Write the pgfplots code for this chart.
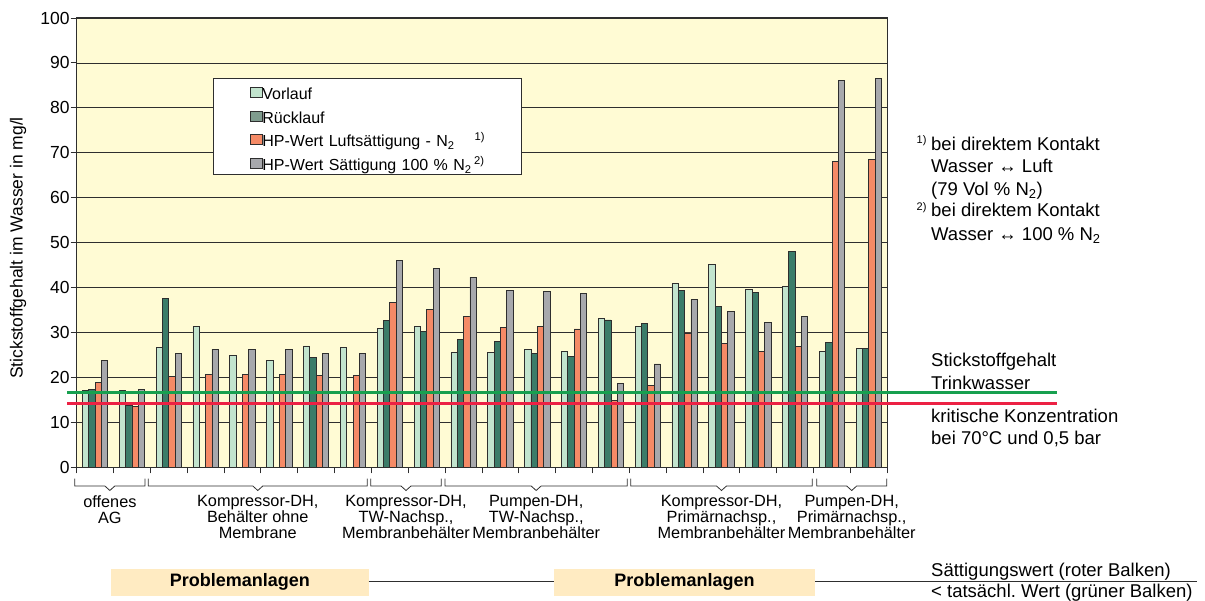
\documentclass[border=0pt]{standalone}
\usepackage{fontspec}
\setmainfont{Liberation Sans}
\usepackage{pgfplots}
\usepackage{pgfplotstable}
\pgfplotsset{compat=1.18}
\definecolor{plotbg}{HTML}{FFFBD4}
\definecolor{vl}{HTML}{C2E4CE}
\definecolor{rl}{HTML}{3B7C69}
\definecolor{rlleg}{HTML}{7F9C8E}
\definecolor{hpl}{HTML}{F58A66}
\definecolor{hps}{HTML}{A7A8AC}
\definecolor{gline}{HTML}{17A04F}
\definecolor{rline}{HTML}{EC2144}
\definecolor{pbox}{HTML}{FFEBC2}
\definecolor{edge}{HTML}{2E2E2E}
\newcommand{\fs}[2]{\fontsize{#1bp}{#2bp}\selectfont}
\frenchspacing

% group centre, Vorlauf, Ruecklauf, HP Luft, HP 100%
\pgfplotstableread{
x    vl    rl    hpl   hps
0.5  17.1  17.3  18.8  23.8
1.5  17.1  13.8  13.6  17.3
2.5  26.7  37.6  20.3  25.4
3.5  31.3  nan   20.6  26.3
4.5  24.8  nan   20.6  26.3
5.5  23.8  nan   20.6  26.3
6.5  27.0  24.5  20.4  25.4
7.5  26.7  nan   20.4  25.4
8.5  30.9  32.6  36.6  46.1
9.5  31.4  30.2  35.2  44.3
10.5 25.5  28.4  33.6  42.3
11.5 25.5  28.1  31.2  39.3
12.5 26.2  25.3  31.3  39.2
13.5 25.8  24.6  30.8  38.7
14.5 33.2  32.8  14.9  18.7
15.5 31.3  32.0  18.3  23.0
16.5 40.9  39.4  29.9  37.4
17.5 45.1  35.8  27.6  34.7
18.5 39.5  38.9  25.8  32.2
19.5 40.3  48.1  26.8  33.6
20.5 25.8  27.8  68.1  86.1
21.5 26.4  26.4  68.5  86.5
}\datatab

\newcommand{\brk}[2]{%
  \draw[edge, line width=0.8pt] (#1,601-478.7) -- (#1,601-486) -- ({(#1+#2)/2-5},601-486)
   -- ({(#1+#2)/2},601-490.5) -- ({(#1+#2)/2+5},601-486) -- (#2,601-486) -- (#2,601-478.7);}

\begin{document}
\begin{tikzpicture}[x=1bp,y=1bp]
\path[use as bounding box] (0,0) rectangle (1205,601);
\begin{axis}[
  at={(76.7bp,133.7bp)}, anchor=south west,
  scale only axis, width=810.6bp, height=449.3bp,
  xmin=0, xmax=22, ymin=0, ymax=100,
  clip=false,
  axis background/.style={fill=plotbg},
  axis line style={edge, line width=1pt},
  xtick={0,1,...,22}, xticklabels={},
  ytick={0,10,...,100},
  xtick pos=left, ytick pos=left,
  tick align=outside, major tick length=6bp,
  tick style={edge, line width=0.9pt},
  ymajorgrids, grid style={edge, line width=0.8pt},
  /pgf/number format/assume math mode=true,
  yticklabel style={font=\fs{17.5}{17.5}, inner xsep=1bp},
  bar width=0.172,
  legend cell align=left,
  legend style={at={(0.1685,0.8658)}, anchor=north west, draw=edge, line width=0.8pt,
    fill=white, inner xsep=36bp, inner ysep=2.3bp, row sep=3.3bp,
    /tikz/every even column/.style={column sep=2.6bp},
    nodes={font=\fs{16}{16}, inner xsep=0bp, inner ysep=1bp, text height=17.4bp,
      text depth=1bp, text width=223bp, align=left}},
  legend image code/.code={\draw[#1, draw=edge, line width=0.7pt] (0bp,-6bp) rectangle (12bp,4bp);},
]
\addplot[ybar, bar shift=-0.258, fill=vl, draw=edge, line width=0.8pt, forget plot] table[x=x, y=vl] {\datatab};
\addplot[ybar, bar shift=-0.086, fill=rl, draw=edge, line width=0.8pt, forget plot] table[x=x, y=rl] {\datatab};
\addplot[ybar, bar shift=0.086, fill=hpl, draw=edge, line width=0.8pt, forget plot] table[x=x, y=hpl] {\datatab};
\addplot[ybar, bar shift=0.258, fill=hps, draw=edge, line width=0.8pt, forget plot] table[x=x, y=hps] {\datatab};
% reference levels
\addplot[gline, line width=2.6pt, forget plot] coordinates {(-0.263,16.6) (26.61,16.6)};
\addplot[rline, line width=2.6pt, forget plot] coordinates {(-0.263,14.2) (26.61,14.2)};
\addlegendimage{fill=vl}
\addlegendentry{Vorlauf}
\addlegendimage{fill=rlleg}
\addlegendentry{Rücklauf}
\addlegendimage{fill=hpl}
\addlegendentry{HP-Wert Luftsättigung - N\textsubscript{2}\hspace{20bp}\textsuperscript{1)}}
\addlegendimage{fill=hps}
\addlegendentry{HP-Wert Sättigung 100 \% N\textsubscript{2}\,\textsuperscript{2)}}
\end{axis}

% y label
\node[rotate=90, font=\fs{17.5}{18}] at (18,601-248) {Stickstoffgehalt im Wasser in mg/l};

% brackets and group labels
\brk{74.7}{145}
\brk{148.3}{367.3}
\brk{370.7}{441.3}
\brk{445}{627.3}
\brk{630.7}{812.3}
\brk{816.7}{886.7}
\begin{scope}[every node/.style={anchor=north, align=center, inner sep=0pt, font=\fs{16.3}{15.9}}]
\node at (109.9,601-495.5) {offenes\\AG};
\node at (257.8,601-495.5) {Kompressor-DH,\\Behälter ohne\\Membrane};
\node at (406,601-495.5) {Kompressor-DH,\\TW-Nachsp.,\\Membranbehälter};
\node at (536.2,601-495.5) {Pumpen-DH,\\TW-Nachsp.,\\Membranbehälter};
\node at (721.5,601-495.5) {Kompressor-DH,\\Primärnachsp.,\\Membranbehälter};
\node at (851.7,601-495.5) {Pumpen-DH,\\Primärnachsp.,\\Membranbehälter};
\end{scope}

% Problemanlagen
\fill[pbox] (111,601-569) rectangle (368.7,601-595.7);
\fill[pbox] (554,601-569) rectangle (815,601-595.7);
\node[font=\bfseries\fs{18}{18}] at (239.9,601-582.3) {Problemanlagen};
\node[font=\bfseries\fs{18}{18}] at (684.5,601-582.3) {Problemanlagen};
\draw[edge, line width=0.9pt] (368.7,601-581) -- (554,601-581);
\draw[edge, line width=0.9pt] (815,601-581) -- (1197,601-581);

% right side notes
\begin{scope}[every node/.style={anchor=base west, inner sep=0pt, font=\fs{18.5}{18.5}}]
\node at (931,601-150.5) {bei direktem Kontakt};
\node at (931,601-173) {Wasser ↔ Luft};
\node at (931,601-195.5) {(79 Vol \% N\textsubscript{2})};
\node at (931,601-217) {bei direktem Kontakt};
\node at (931,601-240.5) {Wasser ↔ 100 \% N\textsubscript{2}};
\node[font=\fs{11}{11}] at (916.5,601-144) {1)};
\node[font=\fs{11}{11}] at (916.5,601-210.5) {2)};
\node at (931,601-366.5) {Stickstoffgehalt};
\node at (931,601-389.8) {Trinkwasser};
\node at (931,601-422.5) {kritische Konzentration};
\node at (931,601-444.8) {bei 70°C und 0,5 bar};
\node at (931,601-576.7) {Sättigungswert (roter Balken)};
\node at (931,601-597.3) {< tatsächl. Wert (grüner Balken)};
\end{scope}
\end{tikzpicture}
\end{document}
